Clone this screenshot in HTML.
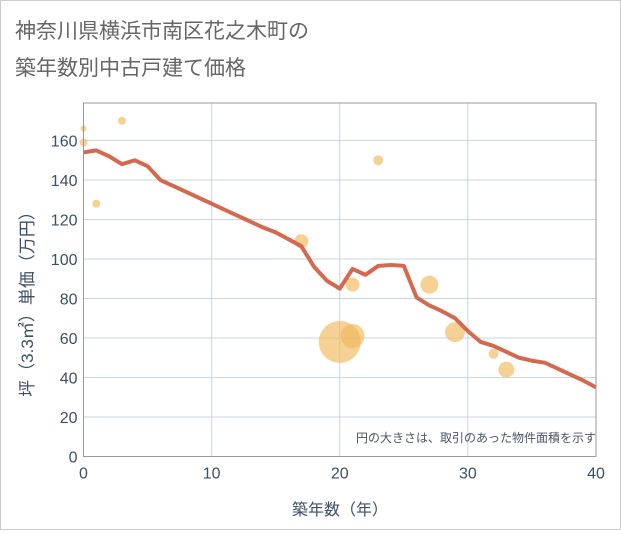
<!DOCTYPE html>
<html><head><meta charset="utf-8"><style>
body{margin:0;background:#fff;}
svg{font-family:"Liberation Sans","Noto Sans CJK JP",sans-serif;}
</style></head><body>
<svg width="621" height="530">
<rect x="0.5" y="0.5" width="620" height="529" fill="#fff" stroke="#ccc"/>
<text x="15" y="38" font-size="21" fill="#666">神奈川県横浜市南区花之木町の</text>
<text x="15" y="75" font-size="21" fill="#666">築年数別中古戸建て価格</text>
<g id="grid"></g>
<g id="bubbles"></g>
<g id="line"></g>
<g id="axes"></g>
<text x="596" y="442" font-size="12" fill="#4a5566" text-anchor="end">円の大きさは、取引のあった物件面積を示す</text>
<text x="340" y="515" font-size="16" fill="#3d4f66" text-anchor="middle">築年数（年）</text>
<text transform="translate(33,300) rotate(-90)" font-size="17" fill="#3d4f66" text-anchor="middle">坪（3.3㎡）単価（万円）</text>
</svg>
<script>
const lineX=[0,1,2,3,4,5,6,7,8,9,10,11,12,13,14,15,16,17,18,19,20,21,22,23,24,25,26,27,28,29,30,31,32,33,34,35,36,37,38,39,40];
const lineY=[154,155,152,148,150,147,140,137,134,131,128,125,122,119,116,113.5,110,106.5,96,89,85,95,92,96.5,97,96.5,80.5,76.5,73.5,70,63.5,58,56,53,50,48.5,47.5,44.5,41.5,38.5,35];
const bubX=[0,0,1,3,17,20,21,21,23,27,29,32,33];
const bubY=[166,159,128,170,109,58,61,87,150,87,63,52,44];
const bubR=[3,4,4,4,7,21,12,7,5,9,10,5,8];
const xTicks=[0,10,20,30,40];
const yTicks=[0,20,40,60,80,100,120,140,160];
const X0=83.5,X1=596,Y0=456.5,YT=103,YMAX=179;
const sx=v=>X0+(X1-X0)*v/40, sy=v=>Y0-(Y0-YT)*v/YMAX;
const NS="http://www.w3.org/2000/svg";
function mk(t,a,p){const e=document.createElementNS(NS,t);for(const k in a)e.setAttribute(k,a[k]);p.appendChild(e);return e;}
const g=document.getElementById('grid'),b=document.getElementById('bubbles'),l=document.getElementById('line'),ax=document.getElementById('axes');
yTicks.forEach(v=>{const e=mk('line',{x1:X0,x2:X1,y1:sy(v),y2:sy(v),stroke:'#c8d6e6','stroke-width':1},g);


const t=mk('text',{x:X0-6,y:sy(v)+6,'font-size':16,fill:'#3d4f66','text-anchor':'end'},ax);t.textContent=v;

});
xTicks.forEach(v=>{const e=mk('line',{x1:sx(v),x2:sx(v),y1:YT,y2:Y0,stroke:'#c8d6e6','stroke-width':1},g);


const t=mk('text',{x:sx(v),y:Y0+22,'font-size':16,fill:'#3d4f66','text-anchor':'middle'},ax);t.textContent=v;

});
const fr=mk('rect',{x:X0,y:YT,width:X1-X0,height:Y0-YT,fill:'none',stroke:'#999','stroke-width':1},ax);


bubX.forEach((v,i)=>{const c=mk('circle',{cx:sx(v),cy:sy(bubY[i]),r:bubR[i],fill:'#f0b95a','fill-opacity':0.65},b);

});
const p=mk('polyline',{points:lineX.map((v,i)=>sx(v)+','+sy(lineY[i])).join(' '),fill:'none',stroke:'#d4694f','stroke-width':4,'stroke-linejoin':'round'},l);


</script>
</body></html>
